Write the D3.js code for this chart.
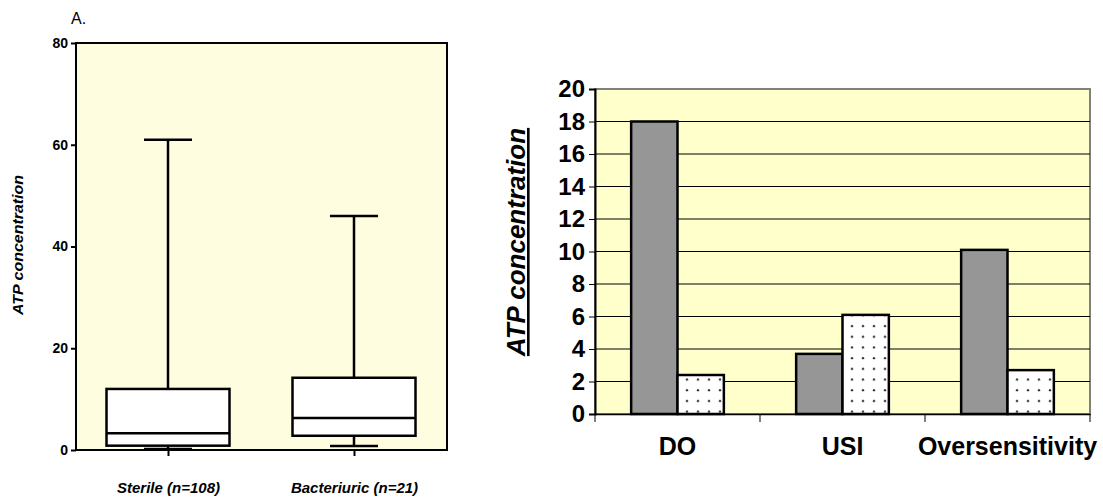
<!DOCTYPE html>
<html>
<head>
<meta charset="utf-8">
<script src="https://cdn.jsdelivr.net/npm/d3@7"></script>
<style>
  body { margin: 0; background: #fff; }
  svg { display: block; font-family: Arial, "Liberation Sans", sans-serif; }
</style>
</head>
<body>
<svg id="chart" width="1103" height="497"></svg>
<script>
// left panel: box plots
var boxGroups = ["Sterile (n=108)", "Bacteriuric (n=21)"];
var boxMin    = [0.2, 0.8];
var boxQ1     = [0.85, 2.8];
var boxMedian = [3.3, 6.3];
var boxQ3     = [12, 14.2];
var boxMax    = [61, 46];
var boxTicks  = [0, 20, 40, 60, 80];

// right panel: grouped bars
var barCats   = ["DO", "USI", "Oversensitivity"];
var barGray   = [18, 3.7, 10.1];
var barDotted = [2.4, 6.1, 2.7];
var barTicks  = [0, 2, 4, 6, 8, 10, 12, 14, 16, 18, 20];

var FONT = "Arial, 'Liberation Sans', sans-serif";
var svg = d3.select("#chart");

svg.append("defs").append("pattern")
    .attr("id", "dots")
    .attr("patternUnits", "userSpaceOnUse")
    .attr("width", 11).attr("height", 10.7)
  .call(function(p) {
    p.append("rect").attr("width", 11).attr("height", 10.7).attr("fill", "#fff");
    p.append("circle").attr("cx", 5).attr("cy", 5).attr("r", 1.2).attr("fill", "#333");
  });

// ---------- left chart ----------
(function() {
  var x0 = 76, x1 = 447, yTop = 43, yBot = 450;
  var g = svg.append("g");

  var y = d3.scaleLinear().domain([0, 80]).range([yBot, yTop]);
  var x = d3.scalePoint().domain(boxGroups).range([168, 354]);

  g.append("rect")
    .attr("x", x0).attr("y", yTop)
    .attr("width", x1 - x0).attr("height", yBot - yTop)
    .attr("fill", "#fffde0")
    .attr("stroke", "#000").attr("stroke-width", 2);

  var data = boxGroups.map(function(d, i) {
    return {name: d, min: boxMin[i], q1: boxQ1[i], med: boxMedian[i], q3: boxQ3[i], max: boxMax[i]};
  });

  var bw = 123, cw = 48;
  var b = g.selectAll(".box").data(data).enter().append("g")
    .attr("stroke", "#000").attr("stroke-width", 2.5).attr("fill", "none");

  b.append("line")
    .attr("x1", function(d) { return x(d.name); })
    .attr("x2", function(d) { return x(d.name); })
    .attr("y1", function(d) { return y(d.max); })
    .attr("y2", function(d) { return y(d.min); });
  b.append("rect")
    .attr("x", function(d) { return x(d.name) - bw / 2; })
    .attr("y", function(d) { return y(d.q3); })
    .attr("width", bw)
    .attr("height", function(d) { return y(d.q1) - y(d.q3); })
    .attr("fill", "#fff");
  b.append("line")
    .attr("x1", function(d) { return x(d.name) - bw / 2; })
    .attr("x2", function(d) { return x(d.name) + bw / 2; })
    .attr("y1", function(d) { return y(d.med); })
    .attr("y2", function(d) { return y(d.med); });
  ["max", "min"].forEach(function(k) {
    b.append("line")
      .attr("x1", function(d) { return x(d.name) - cw / 2; })
      .attr("x2", function(d) { return x(d.name) + cw / 2; })
      .attr("y1", function(d) { return y(d[k]); })
      .attr("y2", function(d) { return y(d[k]); });
  });

  var ya = g.append("g")
    .attr("transform", "translate(" + x0 + ",0)")
    .call(d3.axisLeft(y).tickValues(boxTicks).tickSize(5).tickPadding(3));
  ya.select(".domain").remove();
  ya.selectAll("line").attr("stroke-width", 2);
  ya.selectAll("text").attr("font-size", 14).attr("font-weight", "bold")
    .attr("font-family", FONT);

  var xa = g.append("g")
    .attr("transform", "translate(0," + yBot + ")")
    .call(d3.axisBottom(x).tickSize(6).tickPadding(26));
  xa.select(".domain").remove();
  xa.selectAll("line").attr("stroke-width", 2);
  xa.selectAll("text").attr("font-size", 15).attr("font-weight", "bold")
    .attr("font-style", "italic")
    .attr("font-family", FONT);

  g.append("text")
    .attr("x", 71).attr("y", 24)
    .attr("font-size", 16)
    .text("A.");

  g.append("text")
    .attr("transform", "translate(23,245) rotate(-90)")
    .attr("text-anchor", "middle")
    .attr("font-size", 14).attr("font-weight", "bold").attr("font-style", "italic")
    .attr("textLength", 140).attr("lengthAdjust", "spacingAndGlyphs")
    .text("ATP concentration");
})();

// ---------- right chart ----------
(function() {
  var x0 = 595, x1 = 1090, yTop = 89, yBot = 414;
  var g = svg.append("g");

  var y = d3.scaleLinear().domain([0, 20]).range([yBot, yTop]);
  var x = d3.scaleBand().domain(barCats).range([x0, x1]).paddingInner(0).paddingOuter(0);
  var inner = d3.scaleBand().domain(["gray", "dotted"]).range([0, x.bandwidth()]).paddingOuter(0.78).paddingInner(0);

  g.append("rect")
    .attr("x", x0).attr("y", yTop)
    .attr("width", x1 - x0).attr("height", yBot - yTop)
    .attr("fill", "#ffffcc")
    .attr("stroke", "#808080").attr("stroke-width", 2);

  g.append("g").selectAll("line")
    .data(barTicks.filter(function(t) { return t > 0 && t < 20; }))
    .enter().append("line")
    .attr("x1", x0).attr("x2", x1)
    .attr("y1", function(d) { return y(d); })
    .attr("y2", function(d) { return y(d); })
    .attr("stroke", "#000").attr("stroke-width", 1);

  var data = [];
  barCats.forEach(function(c, i) {
    data.push({cat: c, s: "gray", v: barGray[i]});
    data.push({cat: c, s: "dotted", v: barDotted[i]});
  });

  g.selectAll(".bar").data(data).enter().append("rect")
    .attr("x", function(d) { return x(d.cat) + inner(d.s); })
    .attr("y", function(d) { return y(d.v); })
    .attr("width", inner.bandwidth())
    .attr("height", function(d) { return yBot - y(d.v); })
    .attr("fill", function(d) { return d.s === "gray" ? "#969696" : "url(#dots)"; })
    .attr("stroke", "#000").attr("stroke-width", 2.5);

  var ya = g.append("g")
    .attr("transform", "translate(" + x0 + ",0)")
    .call(d3.axisLeft(y).tickValues(barTicks).tickSize(6).tickPadding(4));
  ya.select(".domain").attr("stroke-width", 2);
  ya.selectAll("text").attr("font-size", 24).attr("font-weight", "bold")
    .attr("font-family", FONT);

  var xa = g.append("g")
    .attr("transform", "translate(0," + yBot + ")")
    .call(d3.axisBottom(x).tickSize(0).tickPadding(23));
  xa.select(".domain").attr("stroke-width", 1.5);
  xa.selectAll("text").attr("font-size", 25).attr("font-weight", "bold")
    .attr("font-family", FONT);

  var bounds = barCats.map(function(c) { return x(c); }).concat([x1]);
  xa.selectAll(".sep").data(bounds).enter().append("line")
    .attr("x1", function(d) { return d; }).attr("x2", function(d) { return d; })
    .attr("y1", 0).attr("y2", 8)
    .attr("stroke", "#000").attr("stroke-width", 1);

  g.append("text")
    .attr("transform", "translate(525,242) rotate(-90)")
    .attr("text-anchor", "middle")
    .attr("font-size", 26).attr("font-weight", "bold").attr("font-style", "italic")
    .attr("text-decoration", "underline")
    .text("ATP concentration");
})();
</script>
</body>
</html>
